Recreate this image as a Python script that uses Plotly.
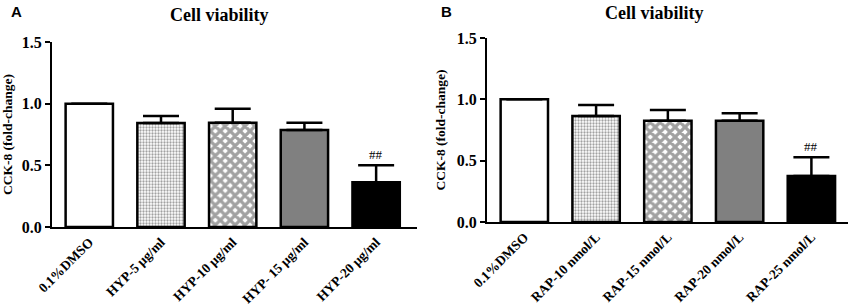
import plotly.graph_objects as go

# ---- data ----
cats_a = ["0.1%DMSO", "HYP-5 μg/ml", "HYP-10 μg/ml", "HYP- 15 μg/ml", "HYP-20 μg/ml"]
vals_a = [1.0, 0.843, 0.846, 0.787, 0.362]
errs_a = [0.0, 0.058, 0.112, 0.058, 0.138]

cats_b = ["0.1%DMSO", "RAP-10 nmol/L", "RAP-15 nmol/L", "RAP-20 nmol/L", "RAP-25 nmol/L"]
vals_b = [1.0, 0.864, 0.826, 0.826, 0.375]
errs_b = [0.0, 0.090, 0.087, 0.060, 0.152]

sig_marks = ["", "", "", "", "##"]
y_ticks = [0.0, 0.5, 1.0, 1.5]
title_text = "Cell viability"
y_title = "CCK-8 (fold-change)"

SERIF = "Liberation Serif, Times New Roman, serif"
SANS = "Liberation Sans, Arial, sans-serif"

bar_colors = ["white", "white", "white", "#808080", "black"]
pat = dict(
    shape=["", ".", "x", "", ""],
    fgcolor="black",
    size=[8, 3, 7, 8, 8],
    solidity=[0.2, 0.45, 0.72, 0.2, 0.2],
)

fig = go.Figure()


def add_panel(cats, vals, errs, xa, ya):
    fig.add_trace(go.Bar(
        x=cats, y=vals, width=0.66,
        xaxis=xa, yaxis=ya,
        marker=dict(color=bar_colors, line=dict(color="black", width=2.5), pattern=pat),
        error_y=dict(type="data", symmetric=False, array=errs, arrayminus=[0] * len(errs),
                     thickness=2.5, width=18, color="black"),
        showlegend=False,
    ))
    for c, v, e, s in zip(cats, vals, errs, sig_marks):
        if s:
            fig.add_annotation(x=c, y=v + e, xref=xa, yref=ya, text=s, showarrow=False,
                               yanchor="bottom", yshift=1,
                               font=dict(family=SERIF, size=13, color="black"))


add_panel(cats_a, vals_a, errs_a, "x", "y")
add_panel(cats_b, vals_b, errs_b, "x2", "y2")

W, H = 851, 306
xax = dict(showline=True, linecolor="black", linewidth=2, ticks="", showgrid=False,
           zeroline=False, tickangle=-45, automargin=False,
           tickfont=dict(family=SERIF, size=13.5, color="black", weight="bold"))
yax = dict(showline=True, linecolor="black", linewidth=2, ticks="outside", ticklen=5,
           tickwidth=2, tickcolor="black", showgrid=False, zeroline=False, automargin=False,
           range=[0, 1.5], tickvals=y_ticks, tickformat=".1f",
           tickfont=dict(family=SERIF, size=16, color="black", weight="bold"),
           title=dict(text=y_title, standoff=8,
                      font=dict(family=SERIF, size=13.5, color="black", weight="bold")))

fig.update_layout(
    width=W, height=H,
    margin=dict(l=0, r=0, t=0, b=0),
    plot_bgcolor="white", paper_bgcolor="white",
    bargap=0.3,
    xaxis=dict(xax, domain=[52 / W, 417 / W], range=[-0.52, 4.57], anchor="y"),
    yaxis=dict(yax, domain=[(H - 227) / H, (H - 42) / H], anchor="x"),
    xaxis2=dict(xax, domain=[487 / W, 848 / W], range=[-0.52, 4.51], anchor="y2"),
    yaxis2=dict(yax, domain=[(H - 222) / H, (H - 38) / H], anchor="x2"),
)

for x, y, t, f, s in [
    (219, 15, title_text, SERIF, 18),
    (654, 13, title_text, SERIF, 18),
    (16, 12, "A", SANS, 15),
    (447, 12, "B", SANS, 15),
]:
    fig.add_annotation(x=x / W, y=1 - y / H, xref="paper", yref="paper", text="<b>" + t + "</b>",
                       showarrow=False, xanchor="center", yanchor="middle",
                       font=dict(family=f, size=s, color="black"))

fig.write_html("out.html", config={"displayModeBar": False},
               post_script="document.body.style.margin='0';document.body.style.overflow='hidden';")
